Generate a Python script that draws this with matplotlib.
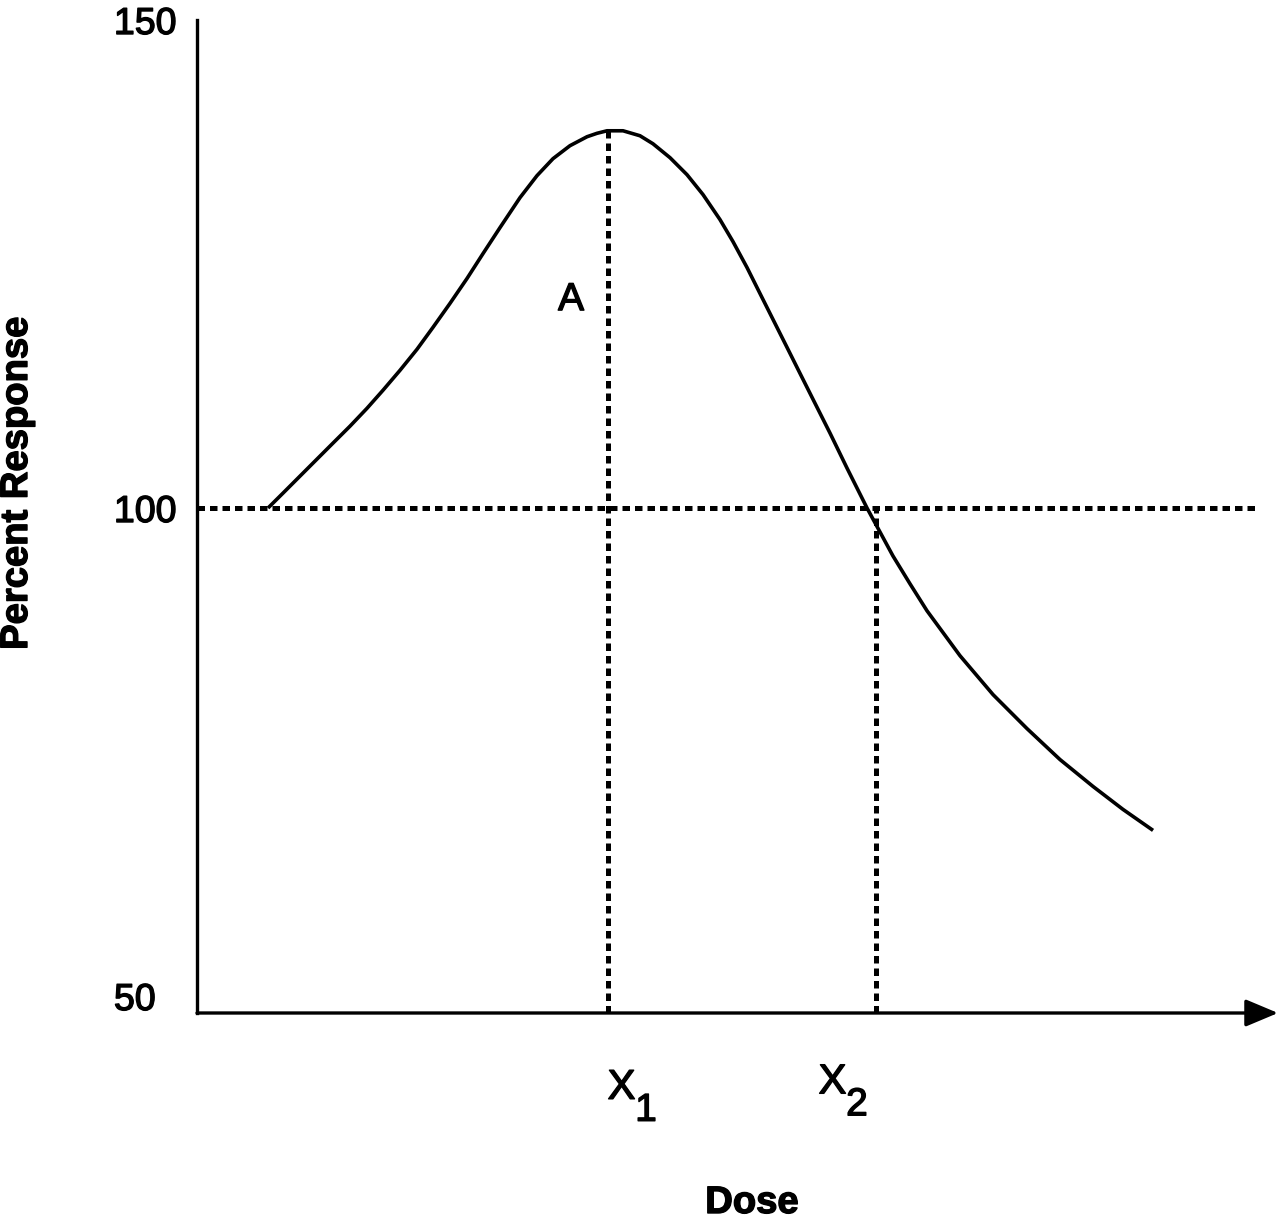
import matplotlib
matplotlib.use("Agg")
import matplotlib.pyplot as plt
import matplotlib.patheffects as pe

plt.rcParams['font.family'] = ['Liberation Sans', 'DejaVu Sans']

# ---- data ----
dose = [0.657, 0.796, 0.953, 1.110, 1.258, 1.415, 1.573, 1.721, 1.878, 2.035,
        2.183, 2.340, 2.498, 2.646, 2.803, 2.988, 3.145, 3.293, 3.450, 3.608,
        3.700, 3.793, 3.941, 4.098, 4.218, 4.376, 4.533, 4.681, 4.838, 4.958,
        5.088, 5.208, 5.328, 5.458, 5.578, 5.698, 5.856, 6.013, 6.198, 6.438,
        6.596, 6.753, 7.058, 7.364, 7.678, 7.983, 8.289, 8.566, 8.844]
response = [100.0, 101.53, 103.27, 105.01, 106.65, 108.38, 110.22, 112.07, 114.11, 116.26,
            118.51, 120.96, 123.52, 126.07, 128.73, 131.80, 134.05, 135.79, 137.12, 138.04,
            138.39, 138.65, 138.65, 138.14, 137.32, 135.89, 134.15, 132.11, 129.55, 127.30,
            124.64, 121.98, 119.33, 116.46, 113.80, 111.15, 107.67, 104.09, 100.0, 95.09,
            92.23, 89.47, 84.87, 80.88, 77.40, 74.23, 71.47, 69.12, 66.97]
baseline = 100
baseline_end = 9.815
x1 = 3.80
x1_top = 138.65
x2 = 6.281
y_ticks = [50, 100, 150]
y_tick_labels = ['50', '100', '150']
label_a = 'A'
label_a_pos = (3.46, 121.3)

thick = [pe.withStroke(linewidth=1.0, foreground='black')]
thick_bold = [pe.withStroke(linewidth=1.0, foreground='black')]

fig = plt.figure(figsize=(12.8, 12.2), dpi=100)
ax = fig.add_axes([197/1280, 1 - 1013/1220, 1081/1280, 993/1220])
ax.set_xlim(0, 10)
ax.set_ylim(48.26, 149.8)

dot = dict(color='black', lw=3.6, linestyle=(0, (1.5, 1.0)), dash_capstyle='butt')
ax.plot([0, baseline_end], [baseline, baseline], **dot)
ax.plot([x1, x1], [48.26, x1_top], **dot)
ax.plot([x2, x2], [48.26, baseline], **dot)

ax.plot(dose, response, color='black', lw=2.6, solid_capstyle='butt', solid_joinstyle='round')

for s in ['top', 'right', 'bottom']:
    ax.spines[s].set_visible(False)
ax.spines['left'].set_linewidth(2.4)

ax.annotate('', xy=(1, 0), xytext=(0, 0), xycoords='axes fraction',
            arrowprops=dict(arrowstyle='-|>,head_length=1.0,head_width=0.42',
                            mutation_scale=20, lw=2.4, color='black',
                            shrinkA=0, shrinkB=0))

ax.set_xticks([])
ax.set_yticks(y_ticks)
ax.set_yticklabels(y_tick_labels, fontsize=27)
ax.tick_params(axis='y', length=0, pad=59.8)
for lab in ax.get_yticklabels():
    lab.set_horizontalalignment('left')
    lab.set_path_effects(thick)

ax.text(label_a_pos[0], label_a_pos[1], label_a, fontsize=28, ha='center', va='center',
        path_effects=thick)

# X labels with subscripts (pixel-estimated offsets converted to data units)
def px2x(px):
    return (px - 197) / 108.1

def py2y(py):
    return 100 + (507 - py) / 9.78

ax.text(px2x(621.5), py2y(1088), 'X', fontsize=30, ha='center', va='center', clip_on=False,
        path_effects=thick)
ax.text(px2x(646), py2y(1111), '1', fontsize=28, ha='center', va='center', clip_on=False,
        path_effects=thick)
ax.text(px2x(832.5), py2y(1082.5), 'X', fontsize=30, ha='center', va='center', clip_on=False,
        path_effects=thick)
ax.text(px2x(857), py2y(1105.5), '2', fontsize=28, ha='center', va='center', clip_on=False,
        path_effects=thick)

fig.text(752/1280, 1 - 1203/1220, 'Dose', fontsize=27.5, fontweight='bold', ha='center', va='center',
         path_effects=thick_bold)
fig.text(17/1280, 1 - 483/1220, 'Percent Response', fontsize=27.5, fontweight='bold',
         rotation=90, ha='center', va='center', path_effects=thick_bold)

fig.savefig('out.png', dpi=100)
